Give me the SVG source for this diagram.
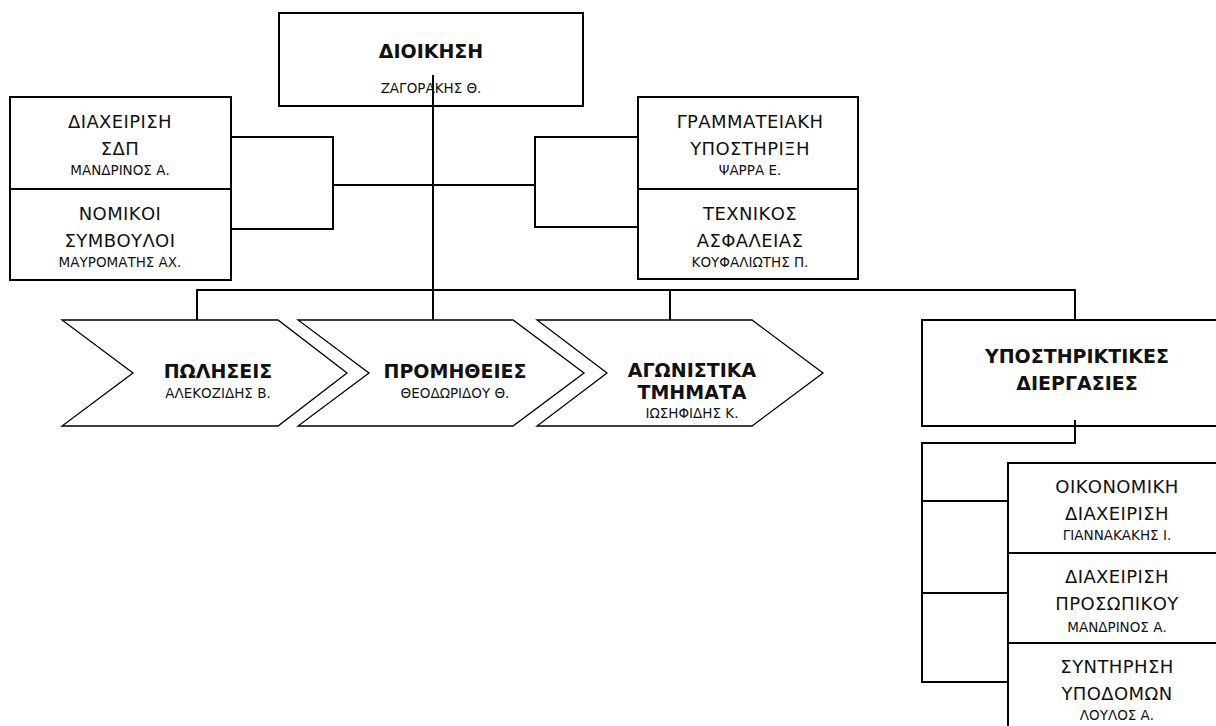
<svg xmlns="http://www.w3.org/2000/svg" width="1216" height="726" viewBox="0 0 1216 726">
<style>
.box{fill:#fff;stroke:#000;stroke-width:2}
.chev{fill:#fff;stroke:#000;stroke-width:1.3}
.ln{fill:none;stroke:#000;stroke-width:2}
text{font-family:"DejaVu Sans","Liberation Sans",sans-serif;fill:#111;text-anchor:middle}
.t{font-size:18px;letter-spacing:0.4px}
.n{font-size:13.5px}
.b{font-size:19px;font-weight:bold}
</style>
<rect width="1216" height="726" fill="#fff"/>
<g id="connectors">
<path class="ln" d="M433 75V320"/>
<path class="ln" d="M231 137H333V229H231M333 185H535M638 137H535V227H638"/>
<path class="ln" d="M197 320V290H1075V320M670 290V320"/>
<path class="ln" d="M1075 420V443H922V682H1008M922 501H1008M922 593H1008"/>
</g>
<g id="dioikisi">
<rect class="box" x="279" y="13" width="304" height="93"/>
<text class="b" x="431" y="58">ΔΙΟΙΚΗΣΗ</text>
<text class="n" x="431" y="93">ΖΑΓΟΡΑΚΗΣ Θ.</text>
</g>
<path class="ln" d="M433 75V106"/>
<g id="sdp">
<rect class="box" x="10" y="97" width="221" height="92"/>
<text class="t" x="120" y="128">ΔΙΑΧΕΙΡΙΣΗ</text>
<text class="t" x="120" y="155">ΣΔΠ</text>
<text class="n" x="120" y="175">ΜΑΝΔΡΙΝΟΣ Α.</text>
</g>
<g id="nomikoi">
<rect class="box" x="10" y="189" width="221" height="91"/>
<text class="t" x="120" y="220">ΝΟΜΙΚΟΙ</text>
<text class="t" x="120" y="247">ΣΥΜΒΟΥΛΟΙ</text>
<text class="n" x="120" y="267">ΜΑΥΡΟΜΑΤΗΣ ΑΧ.</text>
</g>
<g id="grammateiaki">
<rect class="box" x="638" y="97" width="220" height="92"/>
<text class="t" x="750" y="128">ΓΡΑΜΜΑΤΕΙΑΚΗ</text>
<text class="t" x="750" y="155">ΥΠΟΣΤΗΡΙΞΗ</text>
<text class="n" x="750" y="175">ΨΑΡΡΑ Ε.</text>
</g>
<g id="texnikos">
<rect class="box" x="638" y="189" width="220" height="90"/>
<text class="t" x="750" y="220">ΤΕΧΝΙΚΟΣ</text>
<text class="t" x="750" y="247">ΑΣΦΑΛΕΙΑΣ</text>
<text class="n" x="750" y="267">ΚΟΥΦΑΛΙΩΤΗΣ Π.</text>
</g>
<g id="poliseis">
<polygon class="chev" points="62,320 278,320 347,373 278,426 62,426 133,373"/>
<text class="b" x="218" y="378">ΠΩΛΗΣΕΙΣ</text>
<text class="n" x="218" y="398">ΑΛΕΚΟΖΙΔΗΣ Β.</text>
</g>
<g id="promitheies">
<polygon class="chev" points="298,320 513,320 584,373 513,426 298,426 369,373"/>
<text class="b" x="455" y="378">ΠΡΟΜΗΘΕΙΕΣ</text>
<text class="n" x="455" y="398">ΘΕΟΔΩΡΙΔΟΥ Θ.</text>
</g>
<g id="agonistika">
<polygon class="chev" points="537,320 752,320 823,373 752,426 537,426 607,373"/>
<text class="b" x="692" y="377">ΑΓΩΝΙΣΤΙΚΑ</text>
<text class="b" x="692" y="399">ΤΜΗΜΑΤΑ</text>
<text class="n" x="692" y="418">ΙΩΣΗΦΙΔΗΣ Κ.</text>
</g>
<g id="ypostiriktikes">
<rect class="box" x="922" y="320" width="310" height="106"/>
<text class="b" x="1077" y="363">ΥΠΟΣΤΗΡΙΚΤΙΚΕΣ</text>
<text class="b" x="1077" y="390">ΔΙΕΡΓΑΣΙΕΣ</text>
</g>
<path class="ln" d="M1075 420V426"/>
<g id="oikonomiki">
<rect class="box" x="1008" y="463" width="220" height="90"/>
<text class="t" x="1117" y="493">ΟΙΚΟΝΟΜΙΚΗ</text>
<text class="t" x="1117" y="520">ΔΙΑΧΕΙΡΙΣΗ</text>
<text class="n" x="1117" y="540">ΓΙΑΝΝΑΚΑΚΗΣ Ι.</text>
</g>
<g id="prosopiko">
<rect class="box" x="1008" y="553" width="220" height="90"/>
<text class="t" x="1117" y="583">ΔΙΑΧΕΙΡΙΣΗ</text>
<text class="t" x="1117" y="610">ΠΡΟΣΩΠΙΚΟΥ</text>
<text class="n" x="1117" y="632">ΜΑΝΔΡΙΝΟΣ Α.</text>
</g>
<g id="syntirisi">
<rect class="box" x="1008" y="643" width="220" height="90"/>
<text class="t" x="1117" y="673">ΣΥΝΤΗΡΗΣΗ</text>
<text class="t" x="1117" y="700">ΥΠΟΔΟΜΩΝ</text>
<text class="n" x="1117" y="720">ΛΟΥΛΟΣ Α.</text>
</g>
</svg>
